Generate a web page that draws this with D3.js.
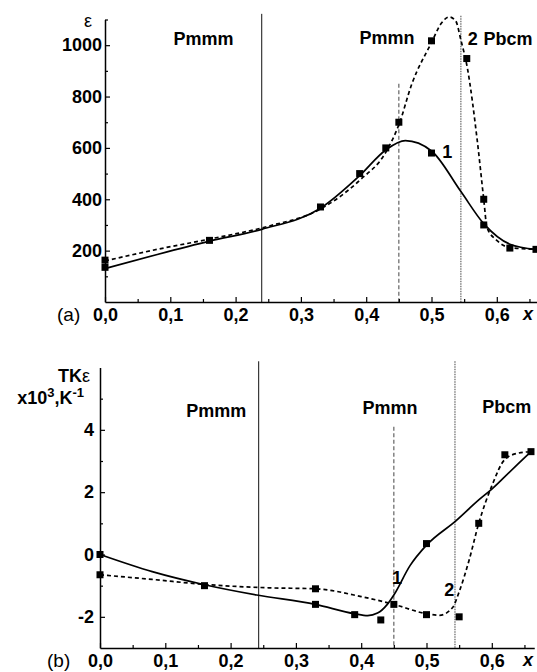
<!DOCTYPE html>
<html>
<head>
<meta charset="utf-8">
<script src="https://cdn.jsdelivr.net/npm/d3@7"></script>
<style>
  body { margin: 0; background: #fff; }
  text { font-family: "Liberation Sans", Arial, sans-serif; fill: #000; }
</style>
</head>
<body>
<div id="chart"></div>
<script>
// ---- data ----
// panel (a): permittivity
var aMark1X = [0, 0.16, 0.33, 0.39, 0.43, 0.50, 0.58, 0.62, 0.66];
var aMark1Y = [135, 240, 370, 500, 600, 580, 300, 210, 205];
var aMark2X = [0, 0.45, 0.50, 0.554, 0.58];
var aMark2Y = [163, 700, 1017, 948, 400];
// fitted curves (1 solid, 2 dashed)
var aFit1X = [0, 0.08, 0.16, 0.24, 0.33, 0.39, 0.43, 0.46, 0.50, 0.545, 0.58, 0.62, 0.66];
var aFit1Y = [130, 185, 237, 283, 365, 492, 592, 628, 588, 430, 305, 225, 205];
var aFit2X = [0, 0.08, 0.16, 0.25, 0.33, 0.39, 0.43, 0.45, 0.47, 0.50, 0.515, 0.527, 0.537, 0.545, 0.555, 0.57, 0.58, 0.585, 0.60, 0.62, 0.66];
var aFit2Y = [160, 205, 245, 295, 362, 474, 583, 690, 850, 1010, 1085, 1110, 1095, 1020, 910, 630, 400, 290, 240, 212, 205];

// panel (b): temperature coefficient
var bMark1X = [0, 0.16, 0.33, 0.39, 0.45, 0.50, 0.66];
var bMark1Y = [0, -1.0, -1.6, -1.93, -1.6, 0.35, 3.3];
var bMark2X = [0, 0.33, 0.43, 0.50, 0.55, 0.58, 0.62];
var bMark2Y = [-0.65, -1.1, -2.1, -1.93, -2.0, 1.0, 3.2];
var bFit1X = [0, 0.08, 0.16, 0.24, 0.33, 0.39, 0.41, 0.425, 0.44, 0.45, 0.475, 0.50, 0.545, 0.58, 0.60, 0.62, 0.66];
var bFit1Y = [0, -0.55, -0.97, -1.3, -1.6, -1.9, -1.96, -1.88, -1.6, -1.3, -0.35, 0.3, 1.08, 1.75, 2.1, 2.5, 3.3];
var bFit2X = [0, 0.08, 0.16, 0.26, 0.33, 0.40, 0.45, 0.50, 0.52, 0.54, 0.55, 0.565, 0.58, 0.60, 0.62, 0.64, 0.66];
var bFit2Y = [-0.65, -0.8, -0.96, -1.07, -1.1, -1.35, -1.6, -1.9, -1.95, -1.7, -1.2, -0.2, 1.0, 2.2, 3.05, 3.25, 3.3];

// phase boundaries: x position and top end (in y units) of each vertical line
var boundX = [0.24, 0.45, 0.545];
var aBoundTop = [1122, 850, 1115];
var bBoundX = [0.243, 0.45, 0.5436];
var bBoundTop = [6.2, 4.1, 6.2];
var boundStyle = ["solid", "dashed", "dotted"];

var phaseNames = ["Pmmm", "Pmmn", "Pbcm"];
var aPhaseX = [0.151, 0.432, 0.617];
var aPhaseY = [1000, 1005, 1000];
var bPhaseX = [0.178, 0.444, 0.623];
var bPhaseY = [4.4, 4.5, 4.55];

var aTicksY = [200, 400, 600, 800, 1000];
var aMinorY = [100, 300, 500, 700, 900, 1100];
var bTicksY = [-2, 0, 2, 4];
var bMinorY = [-1, 1, 3, 5];
var ticksX = [0, 0.1, 0.2, 0.3, 0.4, 0.5, 0.6];
var minorX = [0.05, 0.15, 0.25, 0.35, 0.45, 0.55, 0.65];

var W = 537, H = 672;
var svg = d3.select("#chart").append("svg")
    .attr("width", W)
    .attr("height", H);

var fmtX = function(d) { return d3.format(".1f")(d).replace(".", ","); };

function zip(xs, ys) {
    return xs.map(function(x, i) { return [x, ys[i]]; });
}

function drawPanel(p) {
    var g = svg.append("g");
    var x = d3.scaleLinear().domain([0, 0.665]).range([p.x0, p.x0 + 0.665 * 653]);
    var y = d3.scaleLinear().domain(p.yDomain).range(p.yRange);

    // phase boundaries
    p.boundX.forEach(function(bx, i) {
        var ln = g.append("line")
            .attr("x1", x(bx)).attr("x2", x(bx))
            .attr("y1", y(p.boundTop[i])).attr("y2", y(p.yDomain[0]))
            .attr("stroke", boundStyle[i] == "solid" ? "#111" : "#555")
            .attr("stroke-width", boundStyle[i] == "solid" ? 1 : 1.1);
        if (boundStyle[i] == "dashed") ln.attr("stroke-dasharray", "4,2.5");
        if (boundStyle[i] == "dotted") ln.attr("stroke-dasharray", "1.5,1");
    });

    // axes
    var xAxis = g.append("g")
        .attr("transform", "translate(0," + y(p.yDomain[0]) + ")")
        .call(d3.axisBottom(x).tickValues(ticksX).tickSize(-5).tickSizeOuter(0)
            .tickPadding(p.xPad).tickFormat(fmtX));
    g.append("g")
        .attr("transform", "translate(0," + y(p.yDomain[0]) + ")")
        .call(d3.axisBottom(x).tickValues(minorX).tickSize(-3).tickSizeOuter(0).tickFormat(""))
        .select(".domain").remove();
    var yAxis = g.append("g")
        .attr("transform", "translate(" + p.x0 + ",0)")
        .call(d3.axisLeft(y).tickValues(p.ticksY).tickSize(-5).tickSizeOuter(0)
            .tickPadding(p.yPad).tickFormat(d3.format("d")));
    g.append("g")
        .attr("transform", "translate(" + p.x0 + ",0)")
        .call(d3.axisLeft(y).tickValues(p.minorY).tickSize(-3).tickSizeOuter(0).tickFormat(""))
        .select(".domain").remove();

    g.selectAll(".domain").attr("stroke", "#000").attr("stroke-width", 1.5);
    g.selectAll(".tick line").attr("stroke", "#000").attr("stroke-width", 1.2);
    [xAxis, yAxis].forEach(function(a) {
        a.selectAll("text")
            .style("font-family", "'Liberation Sans', Arial, sans-serif")
            .style("font-size", "18px")
            .style("font-weight", "bold")
            .attr("fill", "#000");
    });
    yAxis.selectAll("text").text(function(d) { return d < 0 ? "-" + Math.abs(d) : d; });

    // fitted curves
    var line = d3.line()
        .x(function(d) { return x(d[0]); })
        .y(function(d) { return y(d[1]); })
        .curve(d3.curveMonotoneX);
    g.append("path")
        .datum(zip(p.fit1X, p.fit1Y))
        .attr("d", line)
        .attr("fill", "none")
        .attr("stroke", "#000")
        .attr("stroke-width", 1.7);
    g.append("path")
        .datum(zip(p.fit2X, p.fit2Y))
        .attr("d", line)
        .attr("fill", "none")
        .attr("stroke", "#000")
        .attr("stroke-width", 1.7)
        .attr("stroke-dasharray", "4,3");

    // measured points
    var pts = zip(p.m1X, p.m1Y).concat(zip(p.m2X, p.m2Y));
    g.selectAll("rect.pt")
        .data(pts)
        .enter()
        .append("rect")
        .attr("class", "pt")
        .attr("x", function(d) { return x(d[0]) - 3.5; })
        .attr("y", function(d) { return y(d[1]) - 3.5; })
        .attr("width", 7)
        .attr("height", 7)
        .attr("fill", "#000");

    // phase names
    g.selectAll("text.phase")
        .data(phaseNames)
        .enter()
        .append("text")
        .attr("class", "phase")
        .attr("x", function(d, i) { return x(p.phaseX[i]); })
        .attr("y", function(d, i) { return y(p.phaseY[i]); })
        .attr("text-anchor", "middle")
        .style("font-size", "18px")
        .style("font-weight", "bold")
        .text(function(d) { return d; });

    // curve numbers
    p.curveLabels.forEach(function(c) {
        g.append("text")
            .attr("x", x(c.x)).attr("y", y(c.y))
            .attr("text-anchor", "middle")
            .style("font-size", "18px")
            .style("font-weight", "bold")
            .text(c.t);
    });

    // x axis name and panel letter
    var base = y(p.yDomain[0]) + p.xPad + 12.8;
    g.append("text")
        .attr("x", 528).attr("y", base - 1)
        .attr("text-anchor", "middle")
        .style("font-size", "18px")
        .style("font-weight", "bold")
        .style("font-style", "italic")
        .text("x");
    g.append("text")
        .attr("x", p.letterX).attr("y", base)
        .style("font-size", "19px")
        .text(p.letter);
    return g;
}

var ga = drawPanel({
    x0: 105, yDomain: [0, 1100], yRange: [302, 19.5],
    ticksY: aTicksY, minorY: aMinorY, xPad: 6, yPad: 3,
    boundX: boundX, boundTop: aBoundTop,
    fit1X: aFit1X, fit1Y: aFit1Y, fit2X: aFit2X, fit2Y: aFit2Y,
    m1X: aMark1X, m1Y: aMark1Y, m2X: aMark2X, m2Y: aMark2Y,
    phaseX: aPhaseX, phaseY: aPhaseY,
    curveLabels: [{x: 0.524, y: 560, t: "1"}, {x: 0.563, y: 1000, t: "2"}],
    letter: "(a)", letterX: 57
});
ga.append("text")
    .attr("x", 88).attr("y", 27)
    .attr("text-anchor", "middle")
    .style("font-size", "18px")
    .text("ε");

var gb = drawPanel({
    x0: 100, yDomain: [-3, 6], yRange: [648, 367.5],
    ticksY: bTicksY, minorY: bMinorY, xPad: 6, yPad: 6,
    boundX: bBoundX, boundTop: bBoundTop,
    fit1X: bFit1X, fit1Y: bFit1Y, fit2X: bFit2X, fit2Y: bFit2Y,
    m1X: bMark1X, m1Y: bMark1Y, m2X: bMark2X, m2Y: bMark2Y,
    phaseX: bPhaseX, phaseY: bPhaseY,
    curveLabels: [{x: 0.455, y: -0.95, t: "1"}, {x: 0.535, y: -1.33, t: "2"}],
    letter: "(b)", letterX: 47
});
var tk = gb.append("text")
    .attr("x", 90).attr("y", 382)
    .attr("text-anchor", "end")
    .style("font-size", "18px")
    .style("font-weight", "bold");
tk.append("tspan").text("TK");
tk.append("tspan").style("font-weight", "normal").text("ε");
var un = gb.append("text")
    .attr("x", 84).attr("y", 404)
    .attr("text-anchor", "end")
    .style("font-size", "18px")
    .style("font-weight", "bold");
un.append("tspan").text("x10");
un.append("tspan").attr("dy", -7).style("font-size", "13px").text("3");
un.append("tspan").attr("dy", 7).text(",K");
un.append("tspan").attr("dy", -7).style("font-size", "13px").text("-1");
</script>
</body>
</html>
